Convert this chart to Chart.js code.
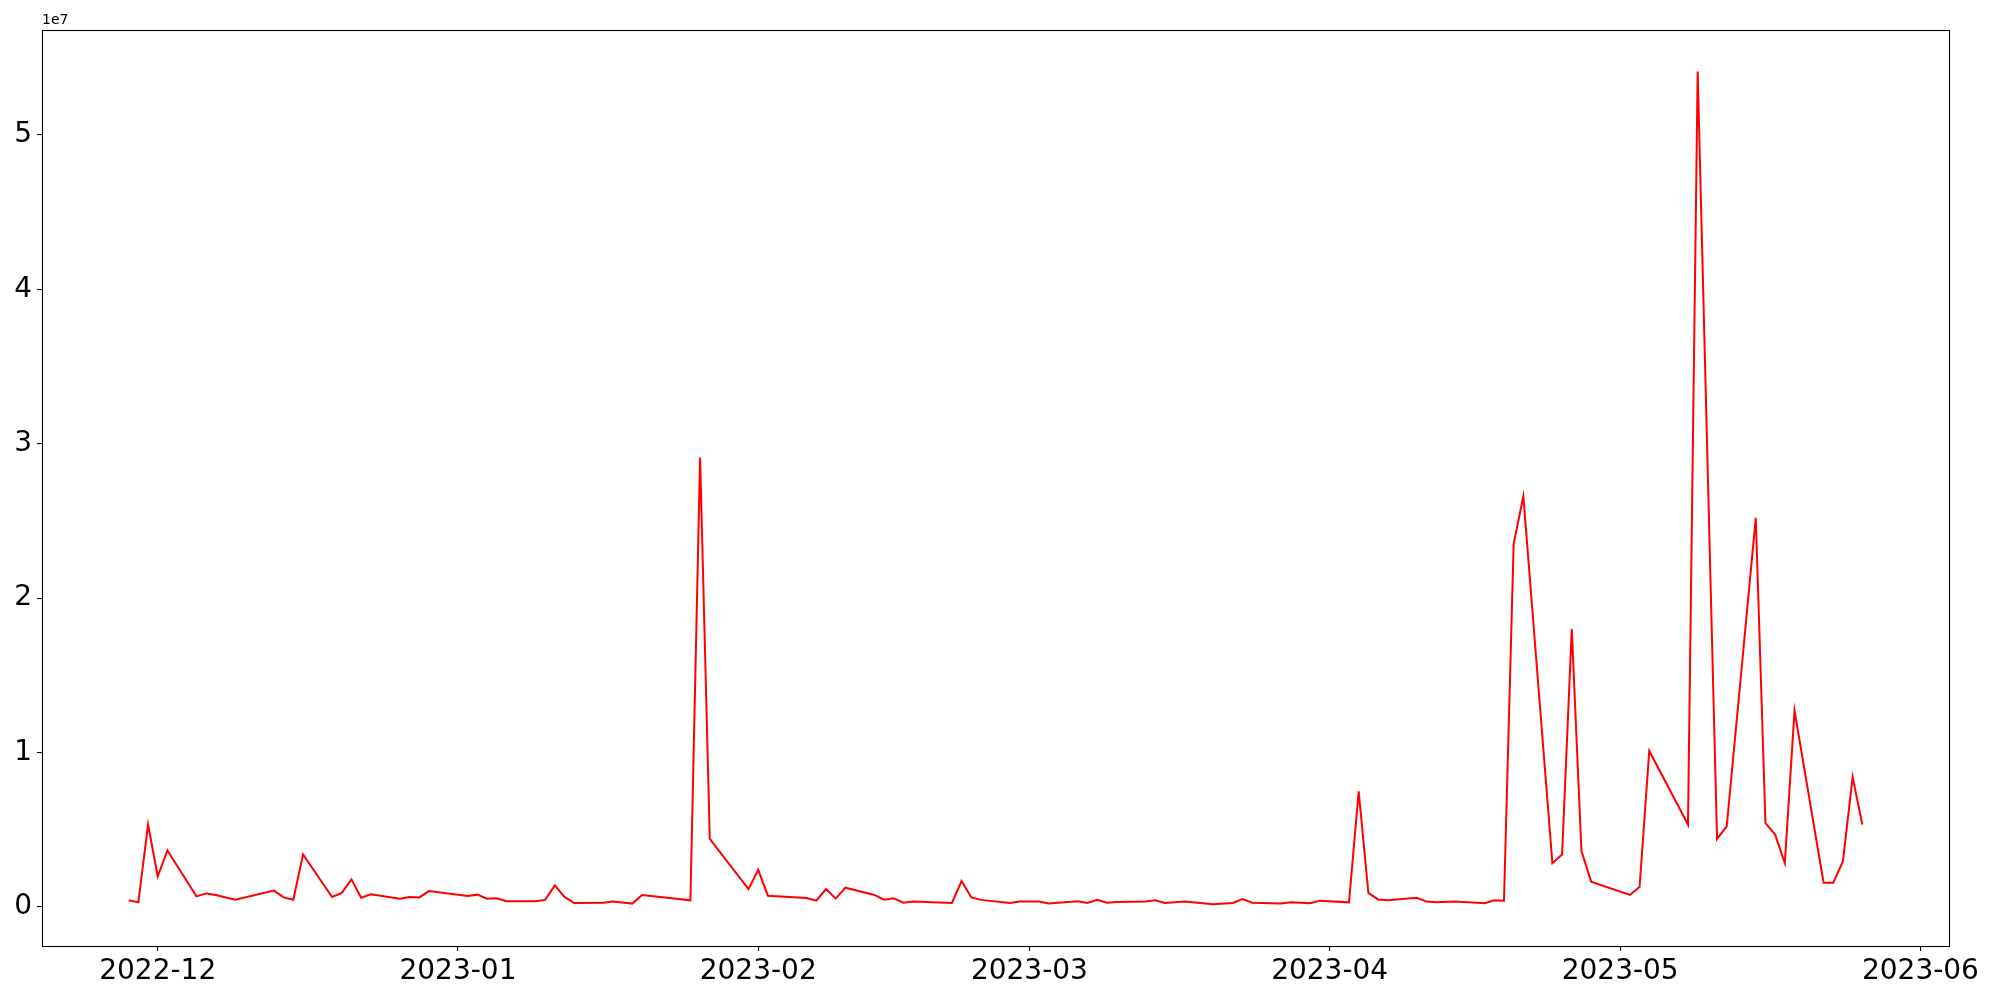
<!DOCTYPE html>
<html>
<head>
<meta charset="utf-8">
<script src="https://cdn.jsdelivr.net/npm/chart.js@4/dist/chart.umd.min.js"></script>
<style>
  html, body { margin: 0; padding: 0; background: #fff; }
  canvas { display: block; }
</style>
</head>
<body>
<canvas id="c" width="2000" height="1000"></canvas>
<script>
// ---- data ----
const dates = [
  '2022-11-28','2022-11-29','2022-11-30','2022-12-01','2022-12-02','2022-12-05','2022-12-06','2022-12-07','2022-12-09','2022-12-13',
  '2022-12-14','2022-12-15','2022-12-16','2022-12-19','2022-12-20','2022-12-21','2022-12-22','2022-12-23','2022-12-26','2022-12-27',
  '2022-12-28','2022-12-29','2023-01-02','2023-01-03','2023-01-04','2023-01-05','2023-01-06','2023-01-09','2023-01-10','2023-01-11',
  '2023-01-12','2023-01-13','2023-01-16','2023-01-17','2023-01-19','2023-01-20','2023-01-25','2023-01-26','2023-01-27','2023-01-31',
  '2023-02-01','2023-02-02','2023-02-06','2023-02-07','2023-02-08','2023-02-09','2023-02-10','2023-02-13','2023-02-14','2023-02-15',
  '2023-02-16','2023-02-17','2023-02-21','2023-02-22','2023-02-23','2023-02-24','2023-02-27','2023-02-28','2023-03-02','2023-03-03',
  '2023-03-06','2023-03-07','2023-03-08','2023-03-09','2023-03-10','2023-03-13','2023-03-14','2023-03-15','2023-03-17','2023-03-20',
  '2023-03-22','2023-03-23','2023-03-24','2023-03-27','2023-03-28','2023-03-30','2023-03-31','2023-04-03','2023-04-04','2023-04-05',
  '2023-04-06','2023-04-07','2023-04-10','2023-04-11','2023-04-12','2023-04-14','2023-04-17','2023-04-18','2023-04-19','2023-04-20',
  '2023-04-21','2023-04-24','2023-04-25','2023-04-26','2023-04-27','2023-04-28','2023-05-02','2023-05-03','2023-05-04','2023-05-08',
  '2023-05-09','2023-05-11','2023-05-12','2023-05-15','2023-05-16','2023-05-17','2023-05-18','2023-05-19','2023-05-22','2023-05-23',
  '2023-05-24','2023-05-25','2023-05-26'
];
const values = [
  420000, 290000, 5330000, 1970000, 3650000, 680000, 870000, 770000, 460000, 1050000,
  610000, 460000, 3390000, 640000, 900000, 1780000, 590000, 810000, 530000, 640000,
  610000, 1020000, 700000, 790000, 530000, 550000, 360000, 360000, 450000, 1390000,
  640000, 250000, 270000, 340000, 210000, 770000, 420000, 29100000, 4400000, 1150000,
  2400000, 720000, 570000, 400000, 1150000, 530000, 1240000, 770000, 460000, 550000,
  270000, 340000, 250000, 1670000, 610000, 450000, 250000, 340000, 340000, 210000,
  360000, 250000, 450000, 270000, 320000, 340000, 420000, 250000, 340000, 160000,
  250000, 510000, 270000, 210000, 290000, 230000, 400000, 290000, 7480000, 900000,
  480000, 420000, 590000, 340000, 290000, 340000, 230000, 420000, 400000, 23500000,
  26600000, 2830000, 3390000, 18000000, 3610000, 1630000, 770000, 1280000, 10100000, 5330000,
  54100000, 4400000, 5220000, 25200000, 5420000, 4680000, 2830000, 12700000, 1560000, 1560000,
  2960000, 8400000, 5330000
];
const xTickLabels = ['2022-12','2023-01','2023-02','2023-03','2023-04','2023-05','2023-06'];
const yTicks = [0, 10000000, 20000000, 30000000, 40000000, 50000000];
const yOffsetLabel = '1e7';
const lineColor = '#ff0000';

// ---- helpers ----
const DAY = 86400000;
function dayNum(s) {
  const p = s.split('-').map(Number);
  return Date.UTC(p[0], p[1] - 1, p[2] || 1) / DAY;
}
function fmtDay(d) {
  const dt = new Date(d * DAY);
  return dt.getUTCFullYear() + '-' + String(dt.getUTCMonth() + 1).padStart(2, '0');
}
const pts = dates.map((d, i) => ({ x: dayNum(d), y: values[i] }));
const xs = pts.map(p => p.x);
const xMin0 = Math.min(...xs), xMax0 = Math.max(...xs);
const xR = xMax0 - xMin0;
const yMin0 = Math.min(...values), yMax0 = Math.max(...values);
const yR = yMax0 - yMin0;
const xTickVals = xTickLabels.map(dayNum);

const FONT = "'DejaVu Sans', 'Liberation Sans', sans-serif";

const framePlugin = {
  id: 'frame',
  afterDraw(chart) {
    const { ctx, chartArea: a } = chart;
    ctx.save();
    ctx.strokeStyle = '#000';
    ctx.lineWidth = 1.1;
    ctx.strokeRect(Math.round(a.left) + 0.5, Math.round(a.top) + 0.5,
                   Math.round(a.right - a.left), Math.round(a.bottom - a.top));
    ctx.fillStyle = '#000';
    ctx.font = '14px ' + FONT;
    ctx.textAlign = 'left';
    ctx.textBaseline = 'bottom';
    ctx.fillText(yOffsetLabel, a.left, a.top - 3);
    ctx.restore();
  }
};

new Chart(document.getElementById('c'), {
  type: 'line',
  data: {
    datasets: [{
      data: pts,
      borderColor: lineColor,
      borderWidth: 2,
      pointRadius: 0,
      tension: 0,
      fill: false
    }]
  },
  options: {
    responsive: false,
    animation: false,
    devicePixelRatio: 1,
    layout: { padding: { top: 30, right: 51, left: 0, bottom: 0 } },
    plugins: { legend: { display: false }, tooltip: { enabled: false } },
    scales: {
      x: {
        type: 'linear',
        min: xMin0 - 0.05 * xR,
        max: xMax0 + 0.05 * xR,
        afterBuildTicks(scale) { scale.ticks = xTickVals.map(v => ({ value: v })); },
        afterFit(scale) { scale.height = 54; },
        grid: { drawOnChartArea: false, drawTicks: true, tickLength: 5, color: '#000', lineWidth: 1.1 },
        border: { display: false },
        ticks: {
          color: '#000',
          font: { family: FONT, size: 28 },
          padding: 4,
          maxRotation: 0,
          autoSkip: false,
          callback: (v) => fmtDay(v)
        }
      },
      y: {
        type: 'linear',
        min: yMin0 - 0.05 * yR,
        max: yMax0 + 0.05 * yR,
        afterBuildTicks(scale) { scale.ticks = yTicks.map(v => ({ value: v })); },
        afterFit(scale) { scale.width = 42; },
        grid: { drawOnChartArea: false, drawTicks: true, tickLength: 5, color: '#000', lineWidth: 1.1 },
        border: { display: false },
        ticks: {
          color: '#000',
          font: { family: FONT, size: 28 },
          padding: 5,
          autoSkip: false,
          callback: (v) => String(Math.round(v / 1e7))
        }
      }
    }
  },
  plugins: [framePlugin]
});
</script>
</body>
</html>
